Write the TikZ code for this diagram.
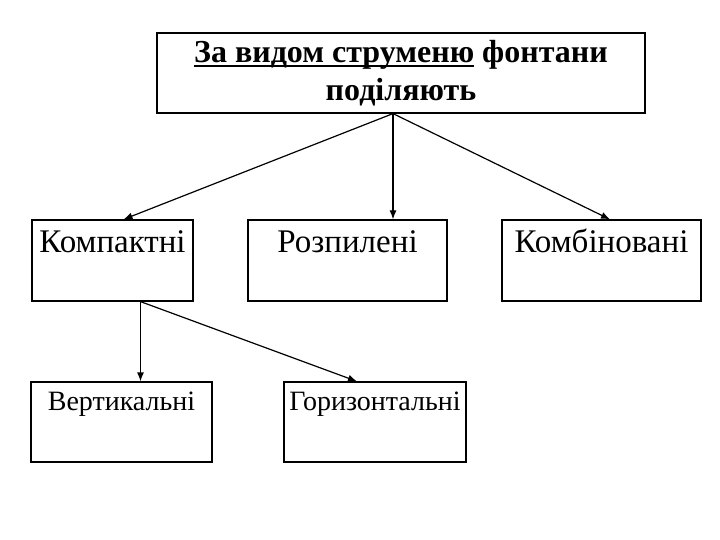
\documentclass[tikz,border=0pt]{standalone}
\usepackage{fontspec}
\setmainfont{Liberation Serif}
\usetikzlibrary{arrows.meta}
\newcommand\uthick[1]{\setbox0\hbox{#1}\rlap{\rule[-4.5pt]{\wd0}{1.6pt}}\box0\relax}

\begin{document}
\begin{tikzpicture}[
        x=1pt, y=-1pt,
        every node/.style={font=\fontsize{33}{38}\selectfont},
        head/.style={
          draw, line width=1.2pt, inner sep=0pt,
          minimum width=488pt, minimum height=80pt,
          align=center, font=\fontsize{32}{38}\selectfont\bfseries,
        },
        kind/.style={
          draw, line width=1.2pt, inner sep=0pt,
          text height=32pt, text depth=49pt,
        },
        sub/.style={
          draw, line width=1.2pt, inner sep=0pt,
          text height=28pt, text depth=52pt,
          font=\fontsize{28}{34}\selectfont,
        },
        chain/.style={
          -{Latex[length=9pt,width=7pt]}, line width=1.2pt,
        },
      ]
      \useasboundingbox (0,0) rectangle (720,540);
      \node[head] (top) at (401,73) {\uthick{За видом струменю} фонтани\\поділяють};
      \node[kind, minimum width=161pt] (comp) at (112.5,260.5) {Компактні};
      \node[kind, minimum width=199pt] (spray) at (347.5,260.5) {Розпилені};
      \node[kind, minimum width=199pt] (mix) at (601.5,260.5) {Комбіновані};
      \node[sub, minimum width=181pt] (vert) at (121.5,422) {Вертикальні};
      \node[sub, minimum width=182pt] (horiz) at (375,422) {Горизонтальні};

      \coordinate (fork) at ([xshift=-8pt]top.south);
      \coordinate (split) at ([xshift=28pt]comp.south);

      \draw[chain] (fork) -- ([xshift=11pt]comp.north);
      \draw[chain] (fork) -- (fork |- spray.north);
      \draw[chain] (fork) -- ([xshift=8.5pt]mix.north);
      \draw[chain] (split) -- (split |- vert.north);
      \draw[chain] (split) -- ([xshift=-18pt]horiz.north);
    \end{tikzpicture}
\end{document}
